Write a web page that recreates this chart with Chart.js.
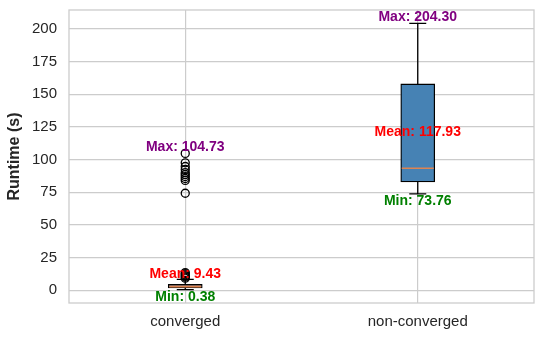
<!DOCTYPE html>
<html>
<head>
<meta charset="utf-8">
<script src="https://cdn.jsdelivr.net/npm/chart.js@4"></script>
<style>
  html, body { margin: 0; padding: 0; background: #fff; }
  #wrap { width: 544px; height: 340px; }
</style>
</head>
<body>
<div id="wrap"><canvas id="runtimeChart" width="544" height="340"></canvas></div>
<script>
// box plot summary
const categories = ["converged", "non-converged"];
const q1Values = [1.8, 82.8];
const q3Values = [4.4, 157.9];
const medianValues = [2.9, 93.3];
const lowerWhisker = [0.38, 73.76];
const upperWhisker = [8.3, 204.3];
const minValues = [0.38, 73.76];
const maxValues = [104.73, 204.3];
const meanValues = [9.43, 117.93];
const convergedOutliers = [
  9.2, 10.1, 10.9, 11.8, 12.6, 13.5,
  74.2, 84.0, 85.5, 87.0, 88.5, 90.0, 92.4, 94.7, 97.5, 104.73,
];
const yTicks = [0, 25, 50, 75, 100, 125, 150, 175, 200];

const GRID = "#cccccc";
const TEXT = "#262626";
const BOX_W = 34;
const CAP_W = 17;

// whiskers, caps, medians, frame and the Max/Mean/Min notes
const boxExtras = {
  id: "boxExtras",
  afterDatasetsDraw(chart) {
    const { ctx, chartArea, scales } = chart;
    const x = scales.x;
    const y = scales.y;

    ctx.save();
    ctx.strokeStyle = GRID;
    ctx.lineWidth = 1.3;
    ctx.strokeRect(chartArea.left, chartArea.top,
      chartArea.right - chartArea.left, chartArea.bottom - chartArea.top);

    categories.forEach((cat, i) => {
      const cx = x.getPixelForValue(i);
      const yQ1 = y.getPixelForValue(q1Values[i]);
      const yQ3 = y.getPixelForValue(q3Values[i]);
      const yLo = y.getPixelForValue(lowerWhisker[i]);
      const yHi = y.getPixelForValue(upperWhisker[i]);

      ctx.strokeStyle = "#000";
      ctx.lineWidth = 1.3;
      ctx.beginPath();
      ctx.moveTo(cx, yQ1); ctx.lineTo(cx, yLo);
      ctx.moveTo(cx, yQ3); ctx.lineTo(cx, yHi);
      ctx.moveTo(cx - CAP_W / 2, yLo); ctx.lineTo(cx + CAP_W / 2, yLo);
      ctx.moveTo(cx - CAP_W / 2, yHi); ctx.lineTo(cx + CAP_W / 2, yHi);
      ctx.stroke();

      const yMed = y.getPixelForValue(medianValues[i]);
      ctx.strokeStyle = "#dd8452";
      ctx.lineWidth = i === 0 ? 2 : 1.5;
      ctx.beginPath();
      ctx.moveTo(cx - BOX_W / 2 + 1, yMed);
      ctx.lineTo(cx + BOX_W / 2 - 1, yMed);
      ctx.stroke();
    });
    ctx.restore();
  },
  afterDraw(chart) {
    const { ctx, scales } = chart;
    const x = scales.x;
    const y = scales.y;
    ctx.save();
    ctx.font = "bold 14px 'Liberation Sans', Arial, sans-serif";
    ctx.textAlign = "center";
    ctx.textBaseline = "alphabetic";
    categories.forEach((cat, i) => {
      const cx = x.getPixelForValue(i);
      ctx.fillStyle = "#800080";
      ctx.fillText(`Max: ${maxValues[i].toFixed(2)}`, cx, y.getPixelForValue(maxValues[i]) - 2.5);
      ctx.fillStyle = "#ff0000";
      ctx.fillText(`Mean: ${meanValues[i].toFixed(2)}`, cx, y.getPixelForValue(meanValues[i]));
      ctx.fillStyle = "#008000";
      ctx.fillText(`Min: ${minValues[i].toFixed(2)}`, cx, y.getPixelForValue(minValues[i]) + 11);
    });
    ctx.restore();
  },
};

const ctx = document.getElementById("runtimeChart").getContext("2d");

new Chart(ctx, {
  type: "bar",
  data: {
    labels: categories,
    datasets: [
      {
        label: "box",
        data: categories.map((c, i) => [q1Values[i], q3Values[i]]),
        backgroundColor: "#4682b4",
        borderColor: "#000",
        borderWidth: 1.3,
        borderSkipped: false,
        barThickness: BOX_W,
      },
      {
        type: "line",
        label: "outliers",
        data: convergedOutliers.map((v) => ({ x: "converged", y: v })),
        showLine: false,
        pointRadius: 4,
        pointStyle: "circle",
        pointBorderColor: "#000",
        pointBackgroundColor: "rgba(0,0,0,0)",
        pointBorderWidth: 1.3,
      },
    ],
  },
  options: {
    responsive: false,
    animation: false,
    devicePixelRatio: 1,
    layout: { padding: { top: 10, right: 10, left: 0, bottom: 0 } },
    plugins: {
      legend: { display: false },
      tooltip: { enabled: false },
    },
    scales: {
      x: {
        type: "category",
        offset: true,
        grid: { offset: false, color: GRID, lineWidth: 1.2, drawTicks: false },
        border: { display: false },
        ticks: {
          color: TEXT,
          padding: 10,
          font: { family: "'Liberation Sans', Arial, sans-serif", size: 15 },
        },
        afterFit: (scale) => {
          scale.height = 37;
          scale.paddingLeft = 0;
          scale.paddingRight = 0;
        },
      },
      y: {
        min: -9.8,
        max: 214.5,
        afterBuildTicks: (scale) => {
          scale.ticks = yTicks.map((v) => ({ value: v }));
        },
        grid: { color: GRID, lineWidth: 1.2, drawTicks: false },
        border: { display: false },
        ticks: {
          color: TEXT,
          padding: 12,
          font: { family: "'Liberation Sans', Arial, sans-serif", size: 15 },
        },
        title: {
          display: true,
          text: "Runtime (s)",
          color: TEXT,
          padding: { top: 5, bottom: 0 },
          font: { family: "'Liberation Sans', Arial, sans-serif", size: 16, weight: "bold" },
        },
        afterFit: (scale) => {
          scale.width = 69;
          scale.paddingTop = 0;
          scale.paddingBottom = 0;
        },
      },
    },
  },
  plugins: [boxExtras],
});
</script>
</body>
</html>
